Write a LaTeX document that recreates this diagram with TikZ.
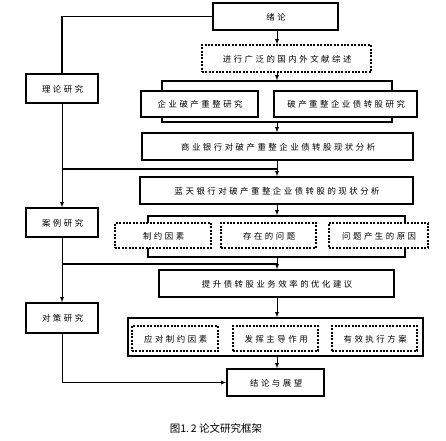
\documentclass[tikz,border=0pt]{standalone}
\usepackage{fontspec}
\usepackage{tikz}
\usetikzlibrary{arrows}
\newfontfamily\cjk[LetterSpace=30]{Noto Sans CJK SC}
\newfontfamily\capfont{Noto Sans CJK SC}

\begin{document}
\begin{tikzpicture}[x=1pt,y=-1pt,
 every node/.style={font=\cjk\fontsize{8.4}{10}\selectfont, inner sep=0pt, text depth=0pt},
 solidbox/.style={draw, fill=white, line width=1.4pt, execute at begin node=\kern1.3pt},
 dotbox/.style={draw, fill=white, line width=1.3pt, dash pattern=on 2pt off 1.4pt, execute at begin node=\kern1.3pt},
 grpbox/.style={draw, line width=1.4pt},
 arr/.style={-latex, line width=0.8pt},
 tie/.style={line width=1.4pt}]
\useasboundingbox (0,0) rectangle (446,440);

\node[solidbox, minimum width=125pt, minimum height=27pt] (xl) at (275.5,16.5) {绪论};
\node[dotbox, minimum width=169pt, minimum height=27pt] (lit) at (286.5,58.5) {进行广泛的国内外文献综述};

\node[grpbox, minimum width=230pt, minimum height=41pt] (grp1) at (277,101.5) {};
\node[solidbox, minimum width=117pt, minimum height=26pt] (qy) at (199.5,104) {企业破产重整研究};
\node[solidbox, minimum width=143pt, minimum height=26pt] (zg) at (345.5,104) {破产重整企业债转股研究};

\node[solidbox, minimum width=271pt, minimum height=27pt] (sy) at (277.5,146.5) {商业银行对破产重整企业债转股现状分析};
\node[solidbox, minimum width=273pt, minimum height=27pt] (lt) at (276.5,190.5) {蓝天银行对破产重整企业债转股的现状分析};

\node[grpbox, minimum width=257pt, minimum height=41pt] (grp2) at (276.5,236.5) {};
\node[dotbox, minimum width=96pt, minimum height=25pt] (d1) at (163,235.5) {制约因素};
\node[dotbox, minimum width=95pt, minimum height=25pt] (d2) at (268.5,235.5) {存在的问题};
\node[dotbox, minimum width=99pt, minimum height=25pt] (d3) at (378.5,235.5) {问题产生的原因};

\node[solidbox, minimum width=235pt, minimum height=27pt] (ts) at (276.5,283.5) {提升债转股业务效率的优化建议};

\node[grpbox, minimum width=295pt, minimum height=38pt] (grp3) at (275.5,337) {};
\node[dotbox, minimum width=86pt, minimum height=25pt] (e1) at (175,338.5) {应对制约因素};
\node[dotbox, minimum width=85pt, minimum height=25pt] (e2) at (275.5,338.5) {发挥主导作用};
\node[dotbox, minimum width=85pt, minimum height=25pt] (e3) at (374.5,338.5) {有效执行方案};

\node[solidbox, minimum width=97pt, minimum height=27pt] (jl) at (275.5,382.5) {结论与展望};

\node[solidbox, minimum width=72pt, minimum height=29pt] (llyj) at (62,88.5) {理论研究};
\node[solidbox, minimum width=72pt, minimum height=29pt] (alyj) at (62,222.5) {案例研究};
\node[solidbox, minimum width=72pt, minimum height=30pt] (dcyj) at (62,318) {对策研究};

\node[font=\capfont\fontsize{10.5}{12}\selectfont] (cap) at (216,428) {图1.\,2\ 论文研究框架};

\coordinate (spine) at (277,0);
\coordinate (j1) at (277,169);
\coordinate (j2) at (277,264);

\draw[arr] (xl.south -| spine) -- (lit.north -| spine);
\draw[arr] (lit.south -| spine) -- (grp1.north -| spine);
\draw[arr] (grp1.south -| spine) -- (sy.north -| spine);
\draw[arr] (sy.south -| spine) -- (lt.north -| spine);
\draw[arr] (lt.south -| spine) -- (grp2.north -| spine);
\draw[arr] (grp2.south -| spine) -- (ts.north -| spine);
\draw[arr] (ts.south -| spine) -- (grp3.north -| spine);
\draw[arr] (grp3.south -| spine) -- (jl.north -| spine);

\draw[tie] (xl.west) -| (llyj.north);
\draw[arr] (llyj.south) -- (alyj.north);
\draw[tie] (j1 -| llyj) -- (j1);
\draw[arr] (alyj.south) -- (dcyj.north);
\draw[tie] (j2 -| alyj) -- (j2);
\draw[arr] (dcyj.south) |- (jl.west);
\end{tikzpicture}
\end{document}
